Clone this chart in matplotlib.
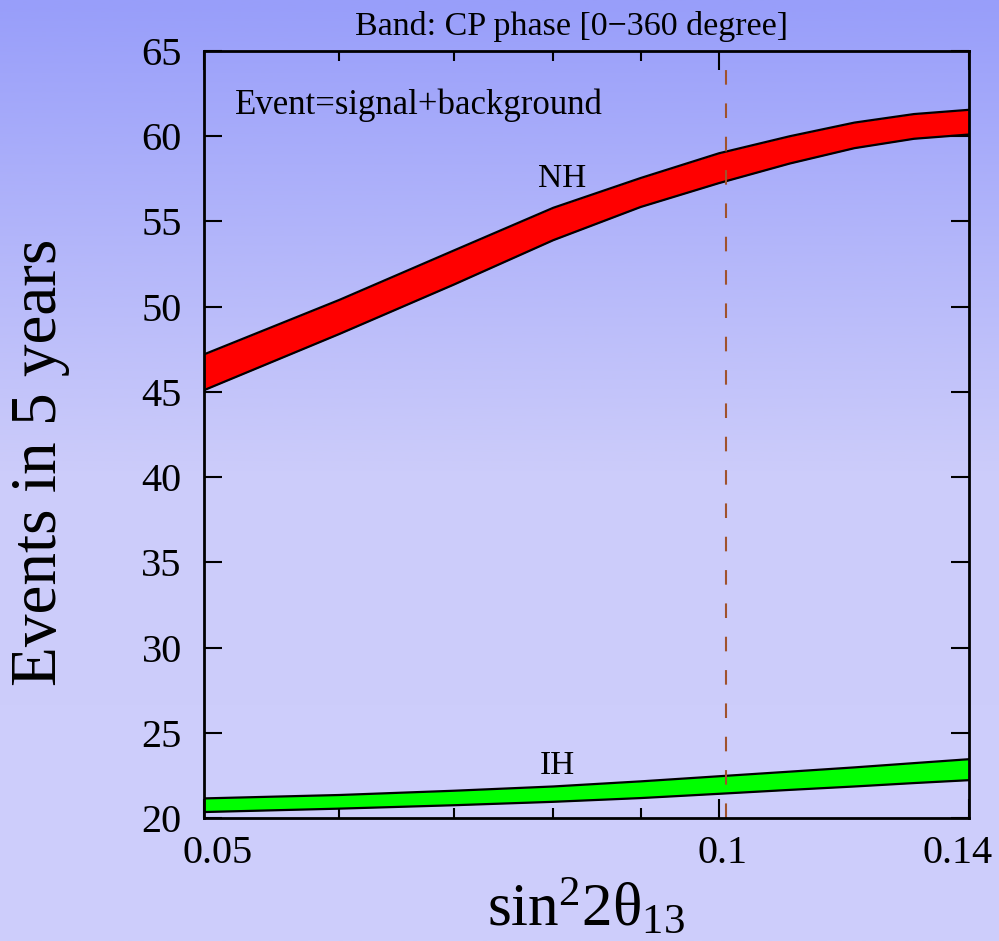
import numpy as np
import matplotlib
matplotlib.use("Agg")
import matplotlib.pyplot as plt
import matplotlib.transforms as mtransforms
from matplotlib.ticker import FixedLocator, FixedFormatter, NullFormatter

plt.rcParams['font.family'] = ['Liberation Serif', 'DejaVu Serif']
plt.rcParams['mathtext.fontset'] = 'custom'
plt.rcParams['mathtext.rm'] = 'Liberation Serif'
plt.rcParams['mathtext.it'] = 'Liberation Serif:italic'

# sin^2(2theta13) values
s2t = [0.05, 0.06, 0.07, 0.08, 0.09, 0.10, 0.11, 0.12, 0.13, 0.14]

# NH band (CP phase 0-360)
nh_hi = [47.2, 50.4, 53.3, 55.8, 57.55, 59.0, 60.0, 60.8, 61.3, 61.55]
nh_lo = [45.1, 48.4, 51.3, 53.9, 55.85, 57.25, 58.4, 59.3, 59.85, 60.1]

# IH band
ih_hi = [21.15, 21.35, 21.6, 21.85, 22.15, 22.45, 22.72, 22.97, 23.22, 23.45]
ih_lo = [20.35, 20.55, 20.75, 20.95, 21.17, 21.42, 21.65, 21.85, 22.05, 22.22]

ref_s2t = 0.101

xticks = [0.05, 0.1, 0.14]
xticklabels = ['0.05', '0.1', '0.14']
xminor = [0.06, 0.07, 0.08, 0.09]
yticks = [20, 25, 30, 35, 40, 45, 50, 55, 60, 65]

fig = plt.figure(figsize=(9.99, 9.41), dpi=100)

# gradient background
bg = fig.add_axes([0, 0, 1, 1], zorder=-10)
t = np.linspace(0, 1, 400)
top = np.array([152, 158, 250]) / 255
mid = np.array([204, 204, 250]) / 255
bot = np.array([206, 206, 252]) / 255
grad = np.where(t[:, None] < 0.5,
                top + (mid - top) * (t[:, None] / 0.5),
                mid + (bot - mid) * ((t[:, None] - 0.5) / 0.5))
bg.imshow(grad[:, None, :], aspect='auto', extent=[0, 1, 0, 1])
bg.axis('off')

ax = fig.add_axes([0.2042, 0.1307, 0.7658, 0.8151])
ax.set_facecolor('none')

ax.fill_between(s2t, nh_lo, nh_hi, color='#ff0000', lw=0)
ax.plot(s2t, nh_hi, color='black', lw=1.6)
ax.plot(s2t, nh_lo, color='black', lw=1.6)

ax.fill_between(s2t, ih_lo, ih_hi, color='#00ff00', lw=0)
ax.plot(s2t, ih_hi, color='black', lw=1.6)
ax.plot(s2t, ih_lo, color='black', lw=1.6)

ax.axvline(ref_s2t, color='#a0522d', lw=1.5, dashes=(7, 9))

ax.set_xscale('log')
ax.set_xlim(0.05, 0.14)
ax.set_ylim(20, 65)
ax.xaxis.set_major_locator(FixedLocator(xticks))
ax.xaxis.set_major_formatter(FixedFormatter(xticklabels))
ax.xaxis.set_minor_locator(FixedLocator(xminor))
ax.xaxis.set_minor_formatter(NullFormatter())
ax.set_yticks(yticks)

ax.tick_params(which='both', direction='in', top=True, right=True, width=1.5, colors='black')
ax.tick_params(axis='x', which='major', length=14, labelsize=29, pad=12)
ax.tick_params(axis='x', which='minor', length=7)
ax.tick_params(axis='y', which='major', length=13, labelsize=29, pad=16)
for sp in ax.spines.values():
    sp.set_linewidth(2)

# nudge the end labels inward like the original
fig.canvas.draw()
xlabs = ax.get_xticklabels()
for lab, dx in zip(xlabs, [14, 3, -11]):
    lab.set_transform(lab.get_transform() + mtransforms.ScaledTranslation(dx / 100, 0, fig.dpi_scale_trans))

ax.text(0.041, 0.918, 'Event=signal+background', transform=ax.transAxes, fontsize=25)
ax.text(0.081, 57.0, 'NH', fontsize=24, ha='center', va='baseline')
ax.text(0.0805, 22.6, 'IH', fontsize=24, ha='center', va='baseline')

fig.text(0.572, 0.963, 'Band: CP phase [0\u2212360 degree]', fontsize=24.5, ha='center', va='baseline')
fig.text(0.040, 1 - 462 / 941, 'Events in 5 years', fontsize=47, rotation=90, ha='center', va='center')
fig.text(0.587, 0.016, r'$\mathrm{sin}^{2}\mathrm{2\theta_{13}}$', fontsize=44, ha='center', va='baseline')

fig.savefig('out.png', dpi=100)
